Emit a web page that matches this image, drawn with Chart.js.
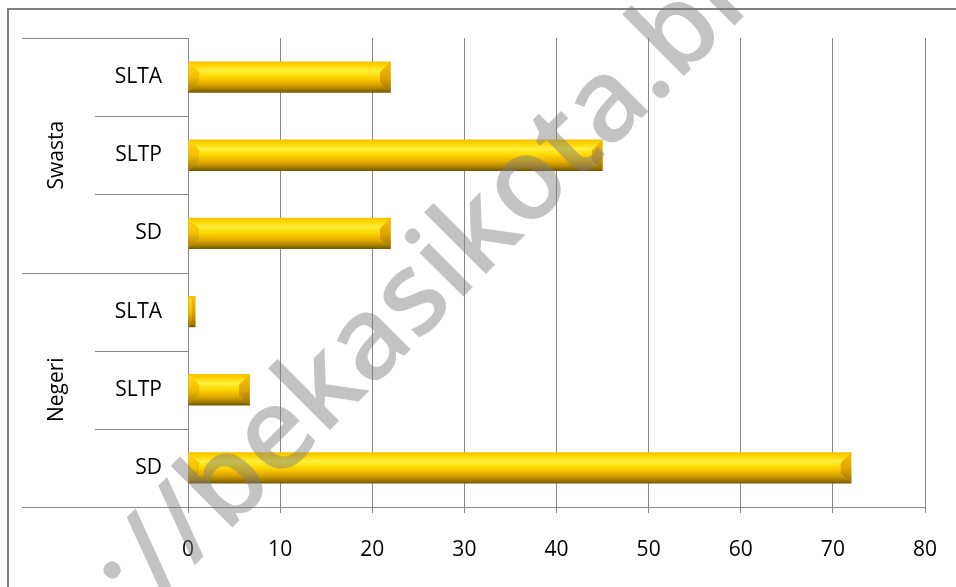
<!DOCTYPE html>
<html>
<head>
<meta charset="utf-8">
<script src="https://cdn.jsdelivr.net/npm/chart.js@4.4.0/dist/chart.umd.min.js"></script>
<style>
  html, body { margin: 0; padding: 0; background: #fff; overflow: hidden; }
  #wrap { position: relative; width: 956px; height: 587px; }
  #frame { position: absolute; left: 7px; top: 8px; width: 1000px; height: 700px;
           border-left: 2px solid #7f7f7f; border-top: 2px solid #7f7f7f; box-sizing: border-box; }
  canvas { position: absolute; left: 0; top: 0; }
</style>
</head>
<body>
<div id="wrap">
  <div id="frame"></div>
  <canvas id="c" width="956" height="587"></canvas>
</div>
<script>
// ---- data ----
const groups = ['Swasta', 'Negeri'];
const categories = ['SLTA', 'SLTP', 'SD'];
const swastaValues = [22, 45, 22];
const negeriValues = [0.8, 6.7, 72];
const xMin = 0, xMax = 80, xStep = 10;
const watermark = 'http://bekasikota.blogspot.com';

const labels = groups.flatMap(() => categories);
const values = [...swastaValues, ...negeriValues];

const FONT = "'Open Sans', 'Liberation Sans', sans-serif";
const LINE = '#878787';
const BAR_FRAC = 0.4;

function barGradient(c) {
  const chart = c.chart;
  const y = chart.scales && chart.scales.y;
  if (!y || c.dataIndex === undefined || !chart.chartArea) return '#FFD000';
  const cy = y.getPixelForValue(c.dataIndex);
  const band = (y.bottom - y.top) / labels.length;
  const h = band * BAR_FRAC;
  const g = chart.ctx.createLinearGradient(0, cy - h / 2, 0, cy + h / 2);
  g.addColorStop(0.00, '#F2C000');
  g.addColorStop(0.12, '#FFD400');
  g.addColorStop(0.30, '#FFF03C');
  g.addColorStop(0.48, '#FFD800');
  g.addColorStop(0.70, '#E6AE00');
  g.addColorStop(0.86, '#B08500');
  g.addColorStop(1.00, '#745600');
  return g;
}

const bevelPlugin = {
  id: 'bevel',
  afterDatasetsDraw(chart) {
    const ctx = chart.ctx;
    const meta = chart.getDatasetMeta(0);
    meta.data.forEach(el => {
      const p = el.getProps(['x', 'y', 'base', 'height'], true);
      const x0 = Math.min(p.base, p.x), x1 = Math.max(p.base, p.x);
      const y0 = p.y - p.height / 2, y1 = p.y + p.height / 2;
      const b = Math.min(p.height * 0.34, (x1 - x0) / 2);
      ctx.save();
      let g = ctx.createLinearGradient(0, y0, 0, y1);
      g.addColorStop(0, '#FFDA10'); g.addColorStop(0.5, '#F2C000'); g.addColorStop(1, '#9C7400');
      ctx.fillStyle = g;
      ctx.beginPath();
      ctx.moveTo(x0, y0); ctx.lineTo(x0 + b, y0 + b); ctx.lineTo(x0 + b, y1 - b); ctx.lineTo(x0, y1);
      ctx.closePath(); ctx.fill();
      g = ctx.createLinearGradient(0, y0, 0, y1);
      g.addColorStop(0, '#F4C000'); g.addColorStop(0.5, '#E2A600'); g.addColorStop(1, '#946C00');
      ctx.fillStyle = g;
      ctx.beginPath();
      ctx.moveTo(x1, y0); ctx.lineTo(x1 - b, y0 + b); ctx.lineTo(x1 - b, y1 - b); ctx.lineTo(x1, y1);
      ctx.closePath(); ctx.fill();
      ctx.restore();
    });
  }
};

const groupAxisPlugin = {
  id: 'groupAxis',
  afterDraw(chart) {
    const ctx = chart.ctx;
    const y = chart.scales.y;
    const x = chart.scales.x;
    const n = labels.length;
    const band = (y.bottom - y.top) / n;
    const outerX = 22, innerX = 95;
    ctx.save();
    ctx.strokeStyle = LINE;
    ctx.lineWidth = 1;
    for (let k = 0; k <= n; k++) {
      const yy = Math.round(y.top + k * band) + 0.5;
      const isGroupEdge = k % categories.length === 0;
      const startX = isGroupEdge ? outerX : innerX;
      const endX = (k === n) ? x.right : y.right;
      ctx.beginPath(); ctx.moveTo(startX, yy); ctx.lineTo(endX, yy); ctx.stroke();
    }
    const ax = Math.round(y.right) + 0.5;
    ctx.beginPath(); ctx.moveTo(ax, y.bottom); ctx.lineTo(ax, y.bottom + 6); ctx.stroke();
    ctx.fillStyle = '#000';
    ctx.font = `21px ${FONT}`;
    ctx.textAlign = 'center';
    ctx.textBaseline = 'middle';
    groups.forEach((g, gi) => {
      const cy = y.top + (gi * categories.length + categories.length / 2) * band;
      ctx.save();
      ctx.translate(57, cy);
      ctx.rotate(-Math.PI / 2);
      ctx.fillText(g, 0, 0);
      ctx.restore();
    });
    ctx.restore();
  }
};

const watermarkPlugin = {
  id: 'watermark',
  afterDraw(chart) {
    const ctx = chart.ctx;
    ctx.save();
    ctx.font = `600 115px ${FONT}`;
    ctx.fillStyle = 'rgba(125,125,125,0.46)';
    ctx.textBaseline = 'alphabetic';
    ctx.textAlign = 'left';
    const pre = ctx.measureText('http://bekasikota').width;
    const dot = ctx.measureText('.').width;
    ctx.translate(666, 94);
    ctx.rotate(-45 * Math.PI / 180);
    ctx.fillText(watermark, -(pre + dot / 2), 0);
    ctx.restore();
  }
};

new Chart(document.getElementById('c'), {
  type: 'bar',
  data: {
    labels: labels,
    datasets: [{
      data: values,
      backgroundColor: barGradient,
      borderWidth: 0,
      barPercentage: BAR_FRAC,
      categoryPercentage: 1.0
    }]
  },
  options: {
    indexAxis: 'y',
    responsive: false,
    animation: false,
    devicePixelRatio: 1,
    layout: { padding: { left: 0, top: 38, right: 31, bottom: 0 } },
    plugins: { legend: { display: false }, tooltip: { enabled: false } },
    scales: {
      x: {
        min: xMin, max: xMax,
        ticks: { stepSize: xStep, color: '#000', padding: 24, font: { family: FONT, size: 21 } },
        grid: { color: LINE, lineWidth: 1, tickLength: 6, drawTicks: true },
        border: { display: true, color: LINE, width: 1 },
        afterFit(s) { s.height = 80; s.paddingLeft = 0; s.paddingRight = 0; }
      },
      y: {
        offset: true,
        ticks: { color: '#000', padding: 26, font: { family: FONT, size: 21 } },
        grid: { display: false, drawTicks: false },
        border: { display: true, color: LINE, width: 1 },
        afterFit(s) { s.width = 188; s.paddingTop = 0; s.paddingBottom = 0; }
      }
    }
  },
  plugins: [bevelPlugin, groupAxisPlugin, watermarkPlugin]
});
</script>
</body>
</html>
